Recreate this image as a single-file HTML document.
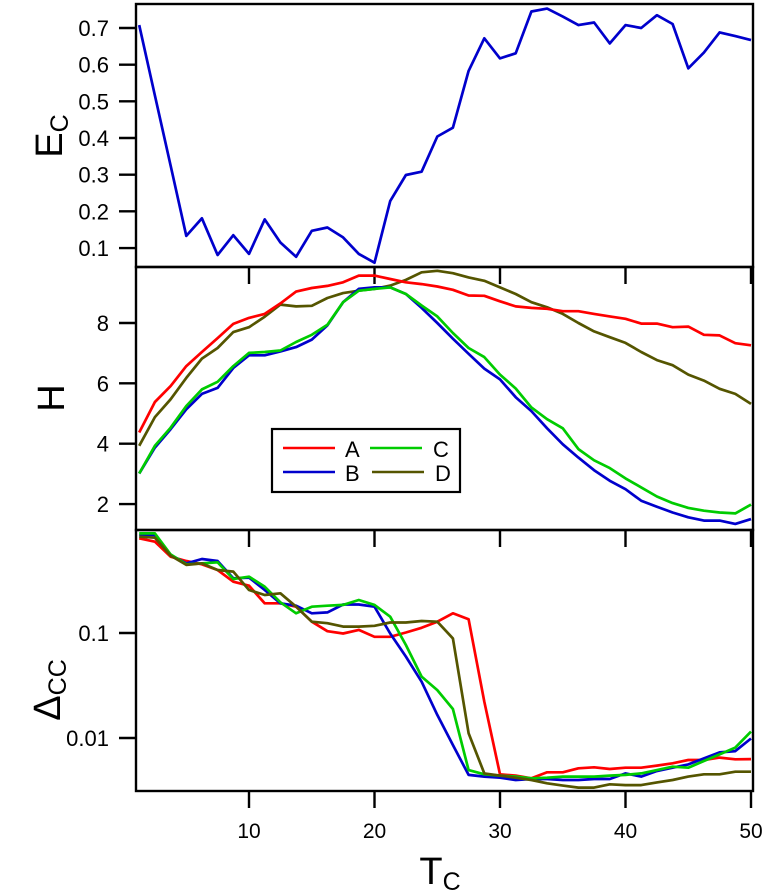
<!DOCTYPE html>
<html><head><meta charset="utf-8">
<style>
html,body{margin:0;padding:0;background:#fff;}
svg{display:block;font-family:"Liberation Sans",Arial,sans-serif;}
</style></head>
<body>
<svg id="chart" width="765" height="890" viewBox="0 0 765 890" xmlns="http://www.w3.org/2000/svg">
  <text transform="translate(62,136) rotate(-90)" font-size="38" text-anchor="middle">E<tspan font-size="25" dy="6">C</tspan></text>
  <text transform="translate(64,398) rotate(-90)" font-size="38" text-anchor="middle">H</text>
  <text transform="translate(60,690) rotate(-90)" font-size="38" text-anchor="middle">Δ<tspan font-size="25" dy="6">CC</tspan></text>
  <text x="440" y="884" font-size="38" text-anchor="middle">T<tspan font-size="25" dy="6">C</tspan></text>
  <g id="marks"></g>
  <g id="legend">
    <rect x="272" y="429" width="188" height="63" fill="#fff" stroke="#000" stroke-width="2.2"/>
    <line x1="283" y1="448" x2="335" y2="448" stroke="#ff0000" stroke-width="2.6"/>
    <text x="345" y="457" font-size="22">A</text>
    <line x1="370" y1="448" x2="422" y2="448" stroke="#00cc00" stroke-width="2.6"/>
    <text x="433" y="457" font-size="22">C</text>
    <line x1="283" y1="472" x2="335" y2="472" stroke="#0000cc" stroke-width="2.6"/>
    <text x="345" y="481" font-size="22">B</text>
    <line x1="372" y1="472" x2="424" y2="472" stroke="#555500" stroke-width="2.6"/>
    <text x="435" y="481" font-size="22">D</text>
  </g>
</svg>
<script>
const xTickValues = [10, 20, 30, 40, 50];
const ecTicks = [0.1, 0.2, 0.3, 0.4, 0.5, 0.6, 0.7];
const hTicks = [2, 4, 6, 8];
const dTicks = [0.01, 0.1];
const dTickLabels = ["0.01", "0.1"];
const tcValues = [1.25,2.5,3.75,5,6.25,7.5,8.75,10,11.25,12.5,13.75,15,16.25,17.5,18.75,20,21.25,22.5,23.75,25,26.25,27.5,28.75,30,31.25,32.5,33.75,35,36.25,37.5,38.75,40,41.25,42.5,43.75,45,46.25,47.5,48.75,50];
const ecSeries = [0.708,0.516,0.325,0.133,0.181,0.081,0.135,0.084,0.178,0.115,0.076,0.147,0.156,0.129,0.084,0.060,0.228,0.299,0.308,0.404,0.428,0.583,0.672,0.617,0.631,0.745,0.753,0.731,0.708,0.715,0.658,0.708,0.700,0.735,0.711,0.590,0.633,0.688,0.678,0.667];
const hA = [4.37,5.38,5.91,6.57,7.04,7.50,7.97,8.17,8.30,8.65,9.04,9.16,9.23,9.35,9.57,9.57,9.46,9.35,9.29,9.21,9.10,8.91,8.90,8.72,8.55,8.50,8.47,8.39,8.39,8.30,8.22,8.14,7.98,7.98,7.86,7.88,7.61,7.59,7.33,7.26];
const hB = [3.01,3.87,4.48,5.14,5.65,5.85,6.51,6.93,6.93,7.06,7.20,7.45,7.92,8.69,9.13,9.18,9.18,8.96,8.50,8.00,7.48,6.98,6.49,6.13,5.54,5.08,4.51,3.98,3.54,3.12,2.77,2.49,2.11,1.91,1.72,1.56,1.45,1.45,1.34,1.50];
const hC = [3.01,3.93,4.53,5.25,5.80,6.05,6.57,7.01,7.04,7.09,7.37,7.61,7.94,8.69,9.07,9.13,9.18,8.96,8.58,8.22,7.67,7.17,6.87,6.29,5.83,5.20,4.81,4.51,3.82,3.45,3.19,2.85,2.55,2.25,2.03,1.87,1.78,1.72,1.69,1.98];
const hD = [3.93,4.88,5.47,6.18,6.82,7.17,7.70,7.86,8.21,8.61,8.55,8.57,8.83,8.99,9.07,9.13,9.24,9.43,9.68,9.73,9.65,9.51,9.40,9.18,8.96,8.69,8.52,8.30,8.00,7.72,7.53,7.34,7.04,6.77,6.60,6.29,6.09,5.82,5.65,5.32];
const dA = [0.798,0.741,0.533,0.485,0.451,0.398,0.308,0.282,0.192,0.192,0.178,0.128,0.104,0.099,0.107,0.092,0.092,0.101,0.112,0.128,0.154,0.135,0.0222,0.00451,0.00438,0.00413,0.00471,0.00471,0.00514,0.00526,0.00507,0.00521,0.00521,0.00546,0.00574,0.00617,0.00617,0.0065,0.00627,0.0063];
const dB = [0.857,0.857,0.553,0.460,0.507,0.485,0.332,0.337,0.257,0.192,0.182,0.154,0.157,0.187,0.187,0.178,0.099,0.0596,0.0344,0.0166,0.00857,0.00445,0.00429,0.00419,0.00398,0.00407,0.00407,0.00398,0.00398,0.00407,0.00407,0.0046,0.00429,0.00485,0.00521,0.00561,0.0064,0.0073,0.0075,0.0099];
const dC = [0.889,0.889,0.561,0.451,0.460,0.471,0.327,0.344,0.276,0.196,0.154,0.178,0.182,0.185,0.206,0.185,0.143,0.0769,0.0384,0.0286,0.0189,0.00495,0.00451,0.00438,0.00429,0.00413,0.00419,0.00429,0.00429,0.00429,0.00438,0.00445,0.0046,0.00495,0.00533,0.00521,0.00604,0.00698,0.0081,0.0115];
const dD = [0.826,0.809,0.546,0.445,0.460,0.398,0.384,0.257,0.230,0.239,0.178,0.128,0.124,0.115,0.115,0.117,0.126,0.126,0.130,0.128,0.0889,0.0111,0.0046,0.00438,0.00419,0.00398,0.0037,0.00352,0.00337,0.00337,0.00362,0.00356,0.00356,0.00378,0.00398,0.00429,0.00451,0.00451,0.00478,0.00478];

const NS = "http://www.w3.org/2000/svg";
const marks = document.getElementById('marks');
const L = 136, R = 753;
const panels = [{t:4,b:267},{t:267,b:530},{t:530,b:791}];
function xs(v){ return 249 + (v - 10) * 12.55; }
function yEc(v){ return 28 + (0.7 - v) * 366.7; }
function yH(v){ return 323 - (v - 8) * 30.17; }
function yD(v){ return 633 - (Math.log10(v) + 1) * 105; }
function mk(tag, attrs){ const e = document.createElementNS(NS, tag); for (const k in attrs) e.setAttribute(k, attrs[k]); return e; }

panels.forEach((p, i) => {
  const r = mk('rect', {x:L, y:p.t, width:R-L, height:p.b-p.t, fill:'none', stroke:'#000', 'stroke-width':2.4});
  
  
  marks.appendChild(r);
  xTickValues.forEach(v => {
    const t = mk('line', {x1:xs(v), x2:xs(v), y1:p.b, y2:p.b+17, stroke:'#000', 'stroke-width':2.4});
    
    
    marks.appendChild(t);
  });
});
xTickValues.forEach(v => {
  const t = mk('text', {x:xs(v), y:838, 'font-size':21, 'text-anchor':'middle'});
  t.textContent = v;
  
  
  marks.appendChild(t);
});
function yTick(y, label, name){
  const ln = mk('line', {x1:L-17, x2:L, y1:y, y2:y, stroke:'#000', 'stroke-width':2.4});
  
  
  marks.appendChild(ln);
  const t = mk('text', {x:L-27, y:y+8, 'font-size':22, 'text-anchor':'end'});
  t.textContent = label;
  
  
  marks.appendChild(t);
}
ecTicks.forEach(v => yTick(yEc(v), v.toFixed(1), 'ec'));
hTicks.forEach(v => yTick(yH(v), String(v), 'h'));
dTicks.forEach((v, i) => yTick(yD(v), dTickLabels[i], 'delta'));

function series(vals, yf, color, name){
  const pts = vals.map((v, i) => xs(tcValues[i]).toFixed(1) + ',' + yf(v).toFixed(1)).join(' ');
  const pl = mk('polyline', {points:pts, fill:'none', stroke:color, 'stroke-width':2.7, 'stroke-linejoin':'round'});
  
  
  marks.appendChild(pl);
}
series(ecSeries, yEc, '#0000cc', 'ec-line');
series(hD, yH, '#555500', 'h-line-d');
series(hA, yH, '#ff0000', 'h-line-a');
series(hB, yH, '#0000cc', 'h-line-b');
series(hC, yH, '#00cc00', 'h-line-c');
series(dA, yD, '#ff0000', 'delta-line-a');
series(dB, yD, '#0000cc', 'delta-line-b');
series(dC, yD, '#00cc00', 'delta-line-c');
series(dD, yD, '#555500', 'delta-line-d');
</script>
</body></html>
